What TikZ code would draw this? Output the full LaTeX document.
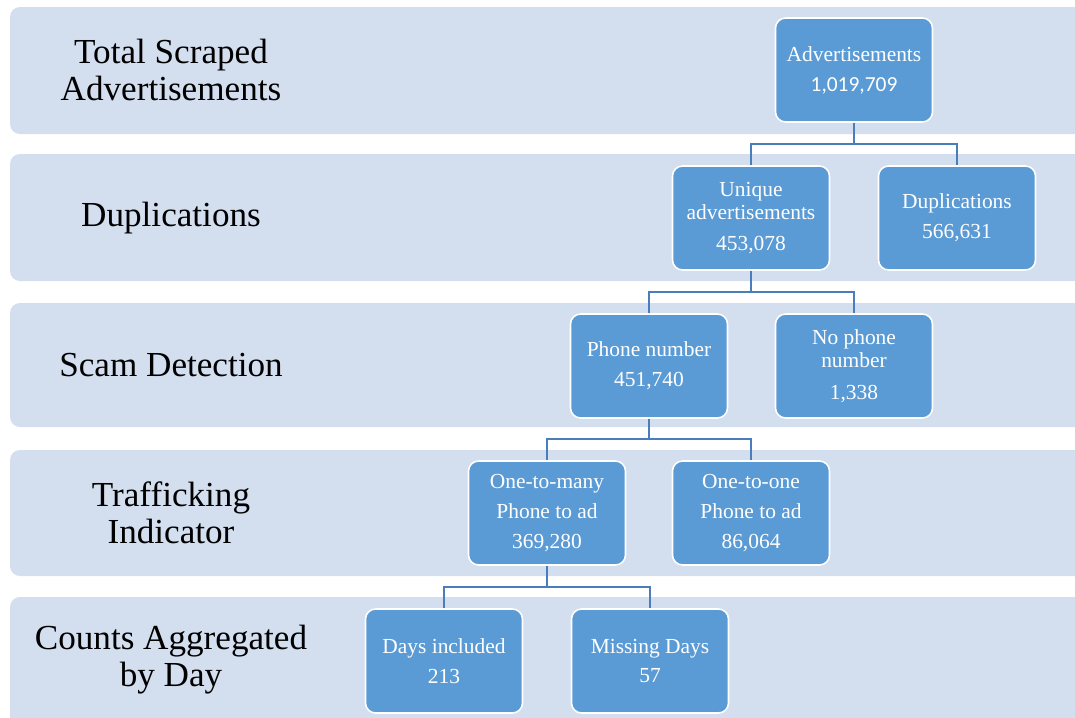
\documentclass[tikz,border=0pt]{standalone}
\usepackage{fontspec}
\setmainfont{Liberation Serif}
\newfontfamily\calfont{Carlito}

\definecolor{bandfill}{HTML}{D3DEEF}
\definecolor{boxfill}{HTML}{5B9BD5}
\definecolor{linkcol}{HTML}{4A7EBB}

\tikzset{
  stage/.style={font=\fontsize{20}{21}\selectfont, align=center},
  stepbox/.style={draw=white, line width=0.9pt, fill=boxfill, text=white,
    rounded corners=0.2cm, minimum width=3.14cm, minimum height=2.08cm,
    align=center, inner sep=2pt, font=\fontsize{12.2}{13}\selectfont},
  link/.style={draw=linkcol, line width=1.1pt},
  band/.style={fill=bandfill, rounded corners=0.2cm},
}

\begin{document}
\begin{tikzpicture}[x=0.02cm, y=-0.02cm]
  \useasboundingbox (0,0) rectangle (1075,717);
  \clip (0,0) rectangle (1075,717);

  % stage bands
  \path[band] (10,7)   rectangle (1100,134);
  \path[band] (10,154) rectangle (1100,281);
  \path[band] (10,303) rectangle (1100,427);
  \path[band] (10,450) rectangle (1100,576);
  \path[band] (10,597) rectangle (1100,740);

  \node[stage] at (171,70)  (lTotal) {Total Scraped\\Advertisements};
  \node[stage] at (171,218) (lDup)   {Duplications};
  \node[stage] at (171,365) (lScam)  {Scam Detection};
  \node[stage] at (171,513) (lTraf)  {Trafficking\\Indicator};
  \node[stage] at (171,660) (lDay)   {Counts Aggregated\\by Day};

  % boxes
  \node[stepbox] at (854,70)  (ads)    {Advertisements\\[4pt]{\calfont 1,019,709}};
  \node[stepbox] at (751,218) (uniq)   {Unique\\advertisements\\[5pt]453,078};
  \node[stepbox] at (957,218) (dups)   {Duplications\\[4pt]566,631};
  \node[stepbox] at (649,366) (phone)  {Phone number\\[4pt]451,740};
  \node[stepbox] at (854,366) (nophone){No phone\\number\\[5pt]1,338};
  \node[stepbox] at (547,513) (many)   {One-to-many\\[4pt]Phone to ad\\[4pt]369,280};
  \node[stepbox] at (751,513) (one)    {One-to-one\\[4pt]Phone to ad\\[4pt]86,064};
  \node[stepbox] at (444,661) (days)   {Days included\\[4pt]213};
  \node[stepbox] at (650,661) (miss)   {Missing Days\\[4pt]57};

  % tree connectors
  \coordinate (b1) at (854,144);
  \coordinate (b2) at (751,292);
  \coordinate (b3) at (649,439);
  \coordinate (b4) at (547,587);
  \draw[link] (ads.south) -- (b1);
  \draw[link] (uniq.north) |- (b1) -| (dups.north);
  \draw[link] (uniq.south) -- (b2);
  \draw[link] (phone.north) |- (b2) -| (nophone.north);
  \draw[link] (phone.south) -- (b3);
  \draw[link] (many.north) |- (b3) -| (one.north);
  \draw[link] (many.south) -- (b4);
  \draw[link] (days.north) |- (b4) -| (miss.north);
\end{tikzpicture}
\end{document}
